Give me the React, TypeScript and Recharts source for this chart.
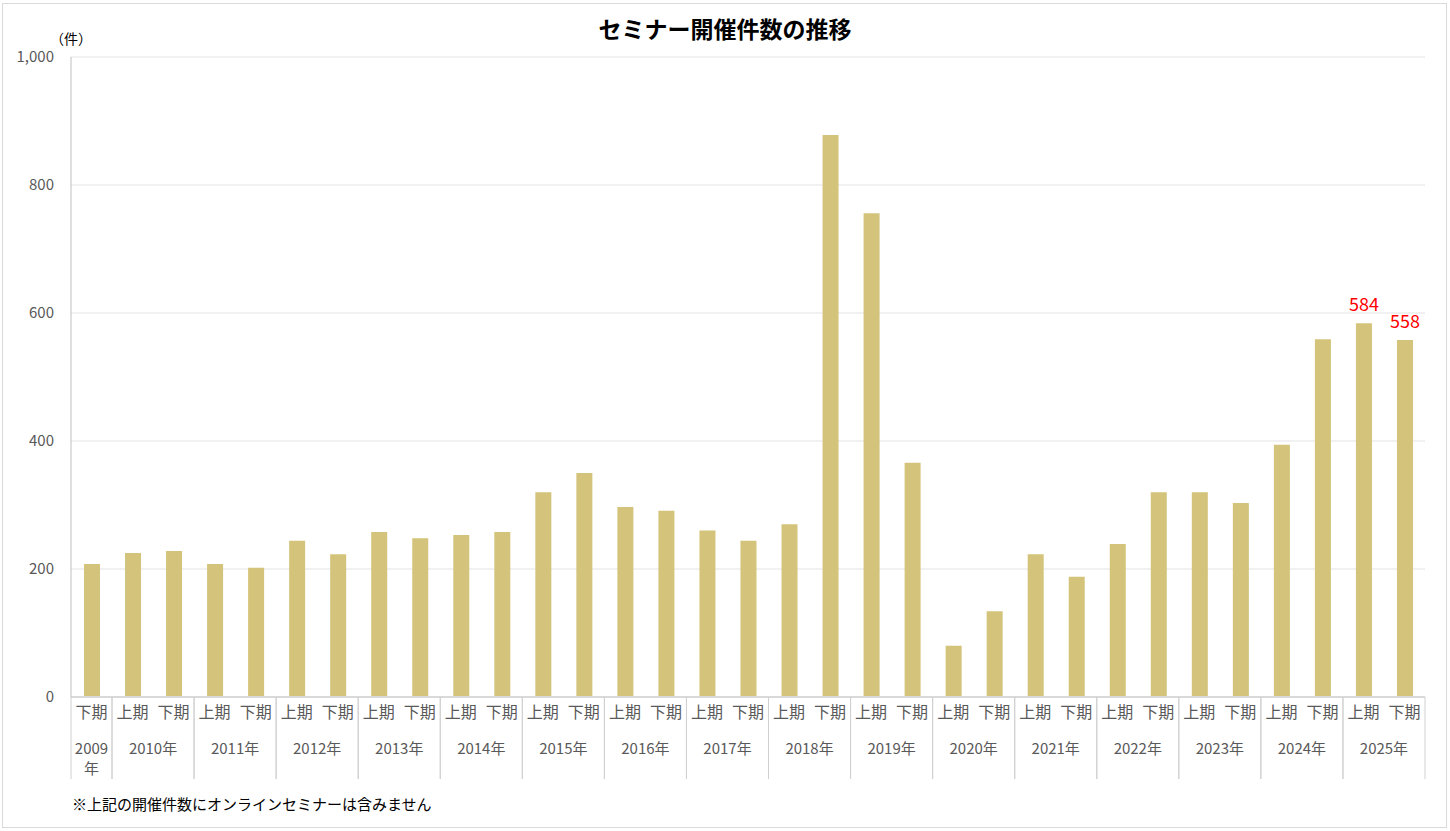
import React from "react";
import {
  BarChart,
  Bar,
  XAxis,
  YAxis,
  CartesianGrid,
  LabelList,
} from "recharts";

const barYears = [
  "2009年", "2010年", "2010年", "2011年", "2011年", "2012年", "2012年",
  "2013年", "2013年", "2014年", "2014年", "2015年", "2015年", "2016年",
  "2016年", "2017年", "2017年", "2018年", "2018年", "2019年", "2019年",
  "2020年", "2020年", "2021年", "2021年", "2022年", "2022年", "2023年",
  "2023年", "2024年", "2024年", "2025年", "2025年",
];
const barHalves = [
  "下期", "上期", "下期", "上期", "下期", "上期", "下期", "上期", "下期",
  "上期", "下期", "上期", "下期", "上期", "下期", "上期", "下期", "上期",
  "下期", "上期", "下期", "上期", "下期", "上期", "下期", "上期", "下期",
  "上期", "下期", "上期", "下期", "上期", "下期",
];
const seminars = [
  208, 225, 228, 208, 202, 244, 223, 258, 248, 253, 258, 320, 350, 297, 291,
  260, 244, 270, 878, 756, 366, 80, 134, 223, 188, 239, 320, 320, 303, 394,
  559, 584, 558,
];
const labeledBars = [31, 32];
const yTicks = [0, 200, 400, 600, 800, 1000];

const data = seminars.map((v, i) => ({
  key: `${barYears[i]}${barHalves[i]}`,
  half: barHalves[i],
  year: barYears[i],
  count: v,
}));

const FONT = "'Noto Sans CJK JP', 'Noto Sans', sans-serif";
const GRAY = "#595959";
const SEP = "#d0d0d0";

const PeriodTick = (props: any) => {
  const { x, y, payload } = props;
  const i = props.index ?? payload.index ?? 0;
  const half = payload.offset ? payload.offset : 20.5;
  const year = barYears[i];
  const isFirst = i === 0 || barYears[i - 1] !== year;
  const isLast = i === barYears.length - 1 || barYears[i + 1] !== year;
  const single = isFirst && isLast;
  return (
    <g>
      <text
        x={x}
        y={y + 21}
        textAnchor="middle"
        fill={GRAY}
        fontSize={16}
        fontFamily={FONT}
      >
        {barHalves[i]}
      </text>
      {isFirst && (
        <line x1={x - half} x2={x - half} y1={y} y2={y + 82} stroke={SEP} />
      )}
      {isLast && (
        <line x1={x + half} x2={x + half} y1={y} y2={y + 82} stroke={SEP} />
      )}
      {isFirst && single && (
        <text x={x} textAnchor="middle" fill={GRAY} fontSize={15} fontFamily={FONT}>
          <tspan x={x} y={y + 57}>{year.replace("年", "")}</tspan>
          <tspan x={x} y={y + 77}>年</tspan>
        </text>
      )}
      {isFirst && !single && (
        <text
          x={x + half}
          y={y + 57}
          textAnchor="middle"
          fill={GRAY}
          fontSize={15}
          fontFamily={FONT}
        >
          {year}
        </text>
      )}
    </g>
  );
};

const RedLabel = (props: any) => {
  const { x, y, width, value, index } = props;
  if (!labeledBars.includes(index)) return null;
  return (
    <text
      x={x + width / 2}
      y={y - 12}
      textAnchor="middle"
      fill="#ff0000"
      fontSize={18}
      fontFamily={FONT}
    >
      {value}
    </text>
  );
};

const App = () => {
  return (
    <div
      style={{
        position: "absolute",
        left: 0,
        top: 0,
        width: 1450,
        height: 831,
        background: "#fff",
        fontFamily: FONT,
      }}
    >
      <div
        style={{
          position: "absolute",
          left: 2,
          top: 3,
          width: 1443,
          height: 823,
          border: "1px solid #d9d9d9",
        }}
      />
      <div
        style={{
          position: "absolute",
          left: 0,
          top: 11,
          width: 1450,
          textAlign: "center",
          fontSize: 23,
          fontWeight: "bold",
          color: "#000",
        }}
      >
        セミナー開催件数の推移
      </div>
      <div
        style={{
          position: "absolute",
          left: 50,
          top: 28,
          fontSize: 14,
          color: "#000",
        }}
      >
        （件）
      </div>
      <div
        style={{
          position: "absolute",
          left: 72,
          top: 793,
          fontSize: 15,
          color: "#000",
        }}
      >
        ※上記の開催件数にオンラインセミナーは含みません
      </div>
      <div style={{ position: "absolute", left: 0, top: 0 }}>
        <BarChart
          width={1450}
          height={831}
          data={data}
          margin={{ top: 57, right: 25, bottom: 44, left: 0 }}
          barSize={16}
        >
          <CartesianGrid vertical={false} stroke="#e3e3e3" />
          <XAxis
            dataKey="key"
            interval={0}
            height={90}
            tickLine={false}
            tickSize={0}
            tickMargin={0}
            axisLine={{ stroke: "#d9d9d9", strokeWidth: 2 }}
            tick={<PeriodTick />}
          />
          <YAxis
            width={71}
            domain={[0, 1000]}
            ticks={yTicks}
            tickLine={false}
            tickSize={0}
            tickMargin={17}
            axisLine={{ stroke: "#bfbfbf" }}
            tickFormatter={(v: number) => v.toLocaleString("en-US")}
            tick={{ fill: GRAY, fontSize: 15, fontFamily: FONT }}
          />
          <Bar dataKey="count" fill="#d4c37a" isAnimationActive={false}>
            <LabelList dataKey="count" content={<RedLabel />} />
          </Bar>
        </BarChart>
      </div>
    </div>
  );
};

export default App;
